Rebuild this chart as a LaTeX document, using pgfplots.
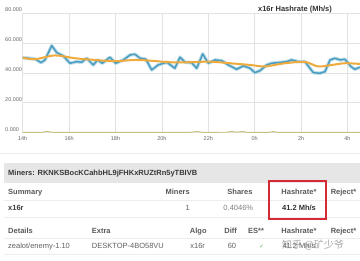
\documentclass[border=0pt]{standalone}
\usepackage{pgfplots}
\pgfplotsset{compat=1.18}
\usepackage{pgfplotstable}
\usepackage{fontspec}
\setmainfont{Liberation Sans}
\newfontfamily\cjk{Noto Sans CJK SC}
\newfontfamily\dejavu{DejaVu Sans}
\definecolor{hblue}{HTML}{4A9CBF}
\definecolor{hhalo}{HTML}{BFDEEA}
\definecolor{horange}{HTML}{EEAA3C}
\definecolor{holive}{HTML}{C4C27E}
\definecolor{gridc}{HTML}{E2E2E2}
\definecolor{hdtxt}{HTML}{5A5A5A}
\definecolor{txt}{HTML}{606060}
\definecolor{band}{HTML}{E6E6E6}
\definecolor{boxred}{HTML}{D42A35}
\definecolor{okgreen}{HTML}{4CAE4C}

\pgfplotstableread{
h v
14.00 50.17
14.53 49.30
14.79 46.82
14.96 48.63
15.25 58.19
15.47 53.51
15.75 51.30
16.04 46.42
16.33 47.49
16.54 47.09
16.76 49.77
17.04 45.28
17.23 48.63
17.43 46.42
17.76 50.44
18.01 46.42
18.34 48.63
18.63 51.97
18.84 52.44
19.06 49.77
19.31 49.10
19.56 41.94
19.84 45.28
20.21 47.09
20.56 43.08
20.78 50.44
21.00 47.09
21.28 46.82
21.50 43.08
21.76 52.64
22.00 46.42
22.29 48.63
22.58 48.16
22.86 45.28
23.22 42.41
23.51 44.62
23.80 43.08
24.01 40.13
24.23 41.47
24.52 45.28
24.73 46.42
25.02 46.82
25.38 47.49
25.59 48.63
25.88 47.49
26.17 47.49
26.38 43.08
26.53 40.13
26.81 39.73
27.03 40.80
27.25 48.63
27.46 49.77
27.68 48.63
27.89 49.10
28.15 44.15
28.32 42.41
28.54 43.75
}\hashrate

\pgfplotstableread{
h v
14.00 50.17
14.53 49.10
15.39 51.64
16.25 49.77
17.12 48.63
17.98 47.76
18.84 48.63
19.49 48.16
20.35 47.09
21.21 47.09
22.07 47.49
22.94 46.42
23.80 45.28
24.44 44.28
25.31 46.42
26.17 47.29
26.73 44.28
27.33 45.28
27.89 46.42
28.54 45.95
}\average

\pgfplotstableread{
h v
14.00 0.2
14.80 0.2
15.05 0.9
15.30 0.2
21.20 0.2
21.50 0.8
21.80 0.2
22.80 0.3
23.00 0.9
23.20 0.4
23.50 0.8
23.70 0.2
24.60 0.2
24.80 0.8
25.00 0.2
28.54 0.2
}\rejected

\begin{document}
\begin{tikzpicture}[x=1pt,y=1pt]
\useasboundingbox (0,0) rectangle (360,261);
\fill[white] (0,0) rectangle (360,261);
\begin{axis}[
  at={(22.7pt,128.3pt)}, anchor=south west,
  scale only axis, width=337.3pt, height=119.7pt,
  xmin=14, xmax=28.54, ymin=0, ymax=80,
  xtick={14,16,...,28}, xticklabels={14h,16h,18h,20h,22h,0h,2h,4h},
  ytick={0,20,40,60,80}, yticklabels={0.000,20.000,40.000,60.000,80.000},
  grid=major, major grid style={gridc, line width=0.6pt},
  axis line style={draw=none}, major tick length=0pt,
  tick label style={font=\fontsize{5.5}{6}\selectfont, text=black!60},
  x tick label style={anchor=north, inner sep=0pt, yshift=-3.3pt},
  y tick label style={anchor=south west, inner sep=0pt, xshift=-17.7pt, yshift=1pt},
  clip=true,
]
\addplot[holive, line width=0.9pt, line join=round] table[x=h,y=v] {\rejected};
\addplot[hhalo, line width=3.6pt, line join=round] table[x=h,y=v] {\hashrate};
\addplot[hblue, line width=1.5pt, line join=round] table[x=h,y=v] {\hashrate};
\addplot[horange, line width=2pt, smooth, tension=0.5] table[x=h,y=v] {\average};
\end{axis}
\node[font=\bfseries\fontsize{7.5}{9}\selectfont, text=black!80] at (295,251) {x16r Hashrate (Mh/s)};

% table section
\draw[black!8, line width=0.5pt] (0,108) -- (360,108);
\fill[band] (4,78) rectangle (360,98);
\node[anchor=mid west, inner sep=0pt, font=\bfseries\fontsize{7.5}{9}\selectfont, text=black!78] at (8,88) {Miners: RKNKSBocKCahbHL9jFHKxRUZtRn5yTBIVB};
\foreach \yy in {61,44,23,7} {\draw[black!7, line width=0.5pt] (4,\yy) -- (360,\yy);}

\tikzset{hd/.style={inner sep=0pt, font=\bfseries\fontsize{7.5}{9}\selectfont, text=hdtxt, anchor=mid},
         td/.style={inner sep=0pt, font=\fontsize{7.5}{9}\selectfont, text=txt, anchor=mid}}
% row 1
\node[hd, anchor=mid west] at (8,69.3) {Summary};
\node[hd, anchor=mid east] at (190,69.3) {Miners};
\node[hd] at (240,69.3) {Shares};
\node[hd] at (299,69.3) {Hashrate*};
\node[hd] at (343.5,69.3) {Reject*};
% row 2
\node[hd, anchor=mid west, text=black!75] at (8,52.7) {x16r};
\node[td, anchor=mid east] at (190,52.7) {1};
\node[td, text=black!50] at (238.3,52.7) {0.4046\%};
\node[hd, text=black!80] at (299,52.7) {41.2 Mh/s};
% row 3
\node[hd, anchor=mid west] at (8,30) {Details};
\node[hd, anchor=mid west] at (91.7,30) {Extra};
\node[hd] at (198.3,30) {Algo};
\node[hd] at (230.7,30) {Diff};
\node[hd] at (256,30) {ES**};
\node[hd] at (299,30) {Hashrate*};
\node[hd] at (343.5,30) {Reject*};
% row 4
\node[td, anchor=mid west] at (8,15) {zealot/enemy-1.10};
\node[td, anchor=mid west] at (91.7,15) {DESKTOP-4BO58VU};
\node[td] at (197.7,15) {x16r};
\node[td] at (232,15) {60};
\node[td, text=okgreen, font=\dejavu\fontsize{5.5}{6}\selectfont] at (261.7,15) {✓};
\node[td] at (299,15) {41.2 Mh/s};
\node[inner sep=0pt, anchor=mid west, font=\cjk\fontsize{10}{11}\selectfont, text=black!45, opacity=0.75] at (282,15) {知乎 @矿少爷};

% red highlight box
\draw[boxred, line width=2.5pt] (269,42) rectangle (326,80);
\end{tikzpicture}
\end{document}
